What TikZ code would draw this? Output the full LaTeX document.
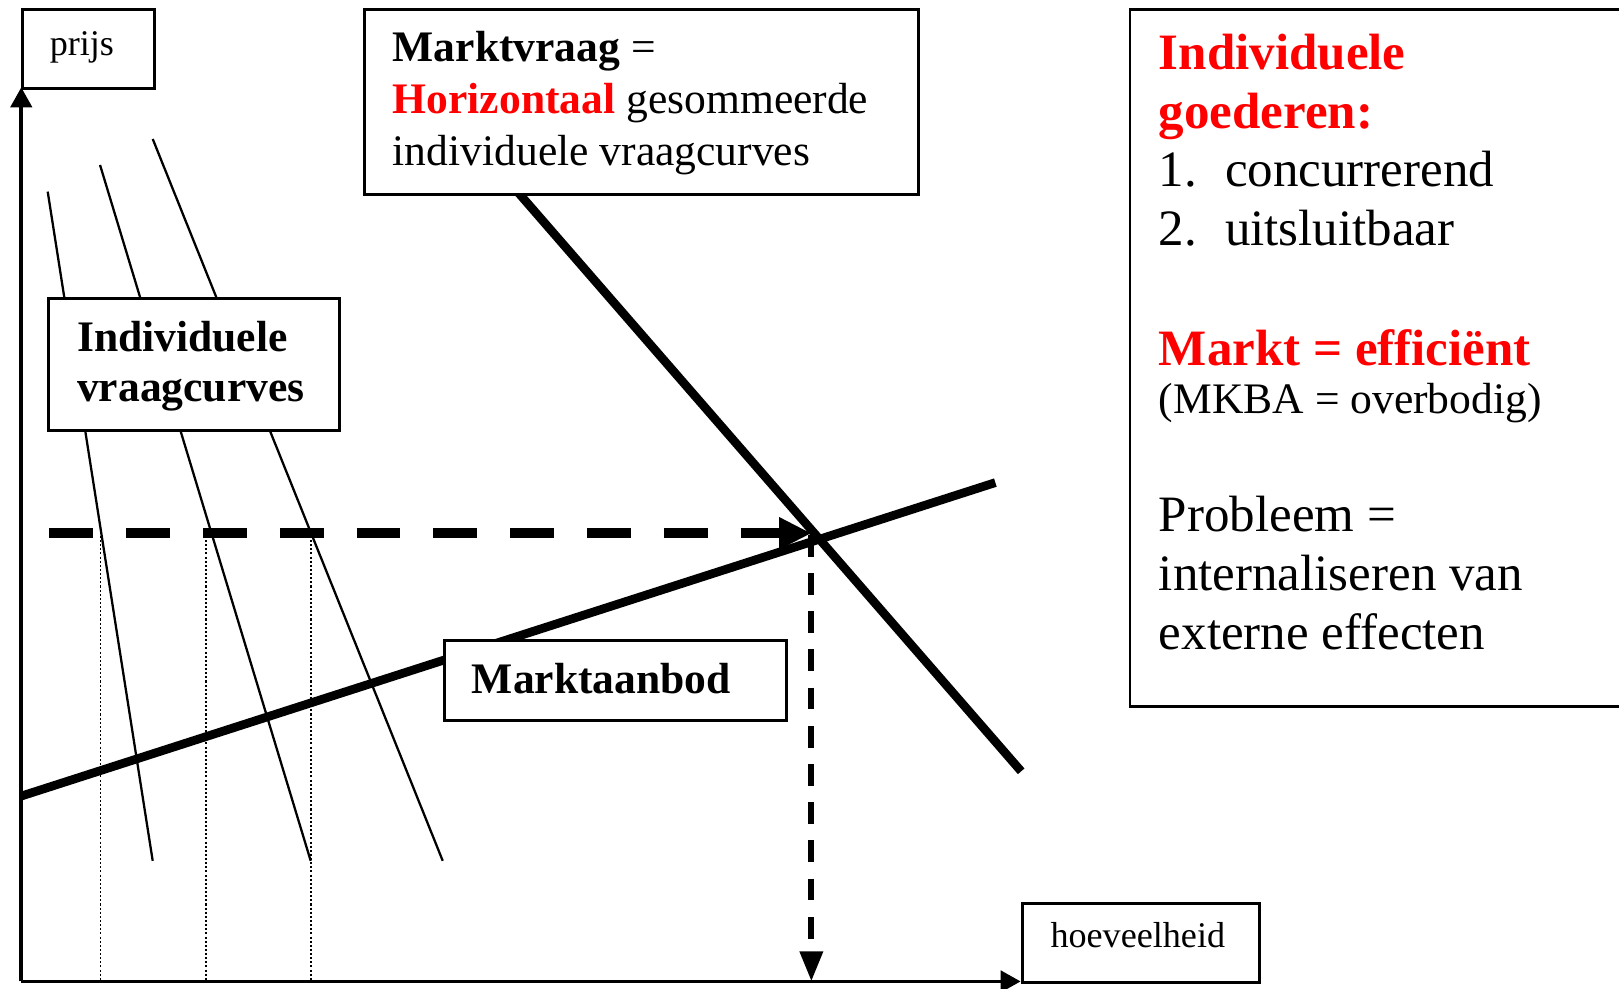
\documentclass[tikz,border=0pt]{standalone}
\usepackage{fontspec}
\setmainfont{Liberation Serif}
\usetikzlibrary{arrows.meta}

\begin{document}
\begin{tikzpicture}[x=0.5pt,y=-0.5pt,
  box/.style={draw=black, line width=1.4pt, fill=white, inner sep=0pt, anchor=north west},
  txt/.style={inner sep=0pt, anchor=base west},
  small/.style={font=\fontsize{17.5}{21}\selectfont},
  mid/.style={font=\fontsize{21.1}{25}\selectfont},
  big/.style={font=\fontsize{24.7}{29}\selectfont},
  axisline/.style={line width=1.8pt, -{Triangle[length=9.7pt,width=10.3pt]}},
  indiv/.style={line width=1.1pt},
  guide/.style={line width=0.8pt, dash pattern=on 1pt off 1pt},
  thickline/.style={line width=4.2pt},
  pricearrow/.style={line width=5pt, dash pattern=on 21.2pt off 16pt,
    -{Triangle[length=15.7pt,width=14.5pt]}},
  qtyarrow/.style={line width=2.9pt, dash pattern=on 10.5pt off 8pt,
    -{Triangle[length=14.5pt,width=10.7pt]}},
]
\useasboundingbox (0,0) rectangle (1568,957);

% axis end points
\coordinate (O) at (20.6,950.5);
\coordinate (pxSW) at (20.6,84.6);
\coordinate (hqSW) at (988.5,950.5);

% axes
\draw[axisline] (O) -- (pxSW);
\draw[axisline] (O) -- (hqSW);

% individual demand curves
\coordinate (c1a) at (46.2,185.6);  \coordinate (c1b) at (147.9,833.7);
\coordinate (c2a) at (96.9,159.8);  \coordinate (c2b) at (300.9,833.7);
\coordinate (c3a) at (147.9,134.6); \coordinate (c3b) at (428.8,833.7);
\draw[indiv] (c1a) -- (c1b);
\draw[indiv] (c2a) -- (c2b);
\draw[indiv] (c3a) -- (c3b);

% dotted guides from the price level down to the quantity axis
\coordinate (g1a) at (97.2,519);  \coordinate (g1b) at (97.2,950.5);
\coordinate (g2a) at (199.5,519); \coordinate (g2b) at (199.5,950.5);
\coordinate (g3a) at (301.2,519); \coordinate (g3b) at (301.2,950.5);
\draw[guide] (g1a) -- (g1b);
\draw[guide] (g2a) -- (g2b);
\draw[guide] (g3a) -- (g3b);

% market supply and market demand
\coordinate (s0) at (20.6,771);   \coordinate (s1) at (964,467.4);
\coordinate (d0) at (502,186.6);  \coordinate (d1) at (989,747);
\draw[thickline] (s0) -- (s1);
\draw[thickline] (d0) -- (d1);

% equilibrium price and quantity
\coordinate (p0) at (47.8,516.5);  \coordinate (eq) at (786,516.5);
\coordinate (q0) at (785.8,518);   \coordinate (q1) at (785.8,950.5);
\draw[pricearrow] (p0) -- (eq);
\draw[qtyarrow] (q0) -- (q1);

% boxes
\node[box, minimum width=63.95pt, minimum height=38.4pt] (px) at (20.6,7.75) {};
\node[txt, small] (pxT) at (47.8,53.3) {prijs};

\node[box, minimum width=115pt, minimum height=38.25pt] (hq) at (988.5,874) {};
\node[txt, small] (hqT) at (1017,918) {hoeveelheid};

\node[box, minimum width=268pt, minimum height=89.3pt] (mv) at (352,8) {};
\node[txt, mid] (mv1) at (380,59.5) {\textbf{Marktvraag} =};
\node[txt, mid] (mv2) at (380,110) {\textcolor{red}{\textbf{Horizontaal}} gesommeerde};
\node[txt, mid] (mv3) at (380,160.5) {individuele vraagcurves};

\node[box, minimum width=140.6pt, minimum height=63.75pt] (iv) at (45.8,288) {};
\node[txt, font=\bfseries\fontsize{21.1}{25}\selectfont] (iv1) at (74.3,340.6) {Individuele};
\node[txt, font=\bfseries\fontsize{21.1}{25}\selectfont] (iv2) at (74.3,389) {vraagcurves};

\node[box, minimum width=165.85pt, minimum height=38.5pt] (ma) at (428.8,619) {};
\node[txt, font=\bfseries\fontsize{21.1}{25}\selectfont] (maT) at (456.6,671.8) {Marktaanbod};

\node[box, minimum width=253.5pt, minimum height=337.5pt] (rb) at (1093,8) {};
\node[txt, text=red, font=\bfseries\fontsize{24.7}{29}\selectfont] (r1) at (1122,67.5) {Individuele};
\node[txt, text=red, font=\bfseries\fontsize{24.7}{29}\selectfont] (r2) at (1122,124.5) {goederen:};
\node[txt, big] (r3n) at (1122,181) {1.};
\node[txt, big] (r3) at (1186,181) {concurrerend};
\node[txt, big] (r4n) at (1122,238) {2.};
\node[txt, big] (r4) at (1186,238) {uitsluitbaar};
\node[txt, text=red, font=\bfseries\fontsize{24.7}{29}\selectfont] (r5) at (1122,354) {Markt = efficiënt};
\node[txt, mid] (r6) at (1122,400) {(MKBA = overbodig)};
\node[txt, big] (r7) at (1122,515) {Probleem =};
\node[txt, big] (r8) at (1122,572) {internaliseren van};
\node[txt, big] (r9) at (1122,629) {externe effecten};
\end{tikzpicture}
\end{document}
